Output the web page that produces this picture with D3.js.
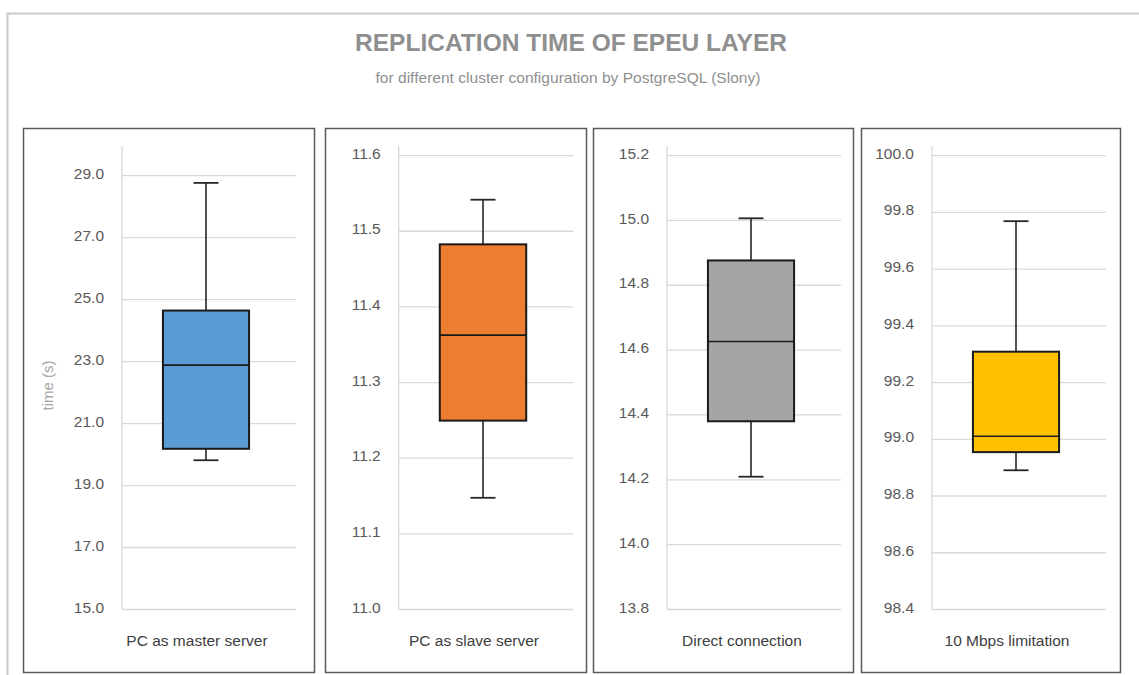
<!DOCTYPE html>
<html><head><meta charset="utf-8">
<script src="https://cdn.jsdelivr.net/npm/d3@7"></script>
<style>
html,body{margin:0;padding:0;background:#fff;}
svg{display:block;font-family:"Liberation Sans",Arial,sans-serif;}
</style></head>
<body>
<svg id="chart" width="1139" height="675"></svg>
<script>
// ---- data ----
const categories = ["PC as master server", "PC as slave server", "Direct connection", "10 Mbps limitation"];
const whiskerMin = [19.80, 11.147, 14.208, 98.889];
const q1         = [20.17, 11.249, 14.379, 98.953];
const median     = [22.87, 11.362, 14.625, 99.009];
const q3         = [24.63, 11.482, 14.875, 99.307];
const whiskerMax = [28.75, 11.541, 15.005, 99.767];
const ticks1 = [15, 17, 19, 21, 23, 25, 27, 29];
const ticks2 = [11.0, 11.1, 11.2, 11.3, 11.4, 11.5, 11.6];
const ticks3 = [13.8, 14.0, 14.2, 14.4, 14.6, 14.8, 15.0, 15.2];
const ticks4 = [98.4, 98.6, 98.8, 99.0, 99.2, 99.4, 99.6, 99.8, 100.0];
const axisMin = [15, 11.0, 13.8, 98.4];
const axisMax = [29.94, 11.612, 15.228, 100.032];
const boxColors = ["#5b9bd5", "#ed7d31", "#a5a5a5", "#ffc000"];
const titleText = "REPLICATION TIME OF EPEU LAYER";
const subtitleText = "for different cluster configuration by PostgreSQL (Slony)";
const yAxisTitle = "time (s)";

const tickSets = [ticks1, ticks2, ticks3, ticks4];

// ---- layout ----
const panelX = [23, 325, 593, 861];
const panelW = [291, 261, 260, 259];
const panelTop = 128, panelBottom = 672;
const plotL = [122, 398.7, 667, 932];
const plotR = [296, 573.3, 841, 1106];
const plotTop = 146, plotBottom = 609;

const svg = d3.select("#chart");

// outer frame
svg.append("rect").attr("x", 7.5).attr("y", 13.5).attr("width", 1160).attr("height", 700)
  .attr("fill", "none").attr("stroke", "#c9c9c9").attr("stroke-width", 2);

// titles
svg.append("text").attr("x", 571).attr("y", 51).attr("text-anchor", "middle")
  .attr("font-size", 23).attr("font-weight", "bold").attr("fill", "#8f8f8f")
  .attr("textLength", 432).attr("lengthAdjust", "spacingAndGlyphs").text(titleText);
svg.append("text").attr("x", 568).attr("y", 83).attr("text-anchor", "middle")
  .attr("font-size", 14.5).attr("fill", "#8f8f8f")
  .attr("textLength", 385).attr("lengthAdjust", "spacingAndGlyphs").text(subtitleText);

categories.forEach((cat, i) => {
  const g = svg.append("g");
  // panel frame
  g.append("rect").attr("x", panelX[i] + 0.5).attr("y", panelTop + 0.5)
    .attr("width", panelW[i]).attr("height", panelBottom - panelTop)
    .attr("fill", "#fff").attr("stroke", "#5a5a5a").attr("stroke-width", 1.5);

  const y = d3.scaleLinear().domain([axisMin[i], axisMax[i]]).range([plotBottom, plotTop]);
  const x = d3.scaleBand().domain([cat]).range([plotL[i], plotR[i]]).paddingOuter(0.51);

  // gridlines
  const grid = g.append("g").attr("transform", `translate(${plotL[i]},0)`)
    .call(d3.axisLeft(y).tickValues(tickSets[i]).tickSize(-(plotR[i] - plotL[i])).tickFormat(""));
  grid.select(".domain").remove();
  grid.selectAll(".tick line").attr("stroke", "#d9d9d9").attr("stroke-width", 1.3);

  // vertical axis line
  g.append("line").attr("x1", plotL[i]).attr("x2", plotL[i])
    .attr("y1", y(axisMax[i])).attr("y2", y(axisMin[i]))
    .attr("stroke", "#d9d9d9").attr("stroke-width", 1.3);

  // tick labels
  const ax = g.append("g").attr("transform", `translate(${plotL[i]},0)`)
    .call(d3.axisLeft(y).tickValues(tickSets[i]).tickSize(0).tickPadding(18).tickFormat(d3.format(".1f")));
  ax.select(".domain").remove();
  ax.selectAll(".tick text").attr("font-size", 15.5).attr("fill", "#595959")
    .attr("font-family", "Liberation Sans, Arial, sans-serif").attr("dy", "0.2em");

  // box
  const bw = x.bandwidth();
  const bx = x(cat) - 3;
  const cx = bx + bw / 2;
  const cap = bw * 0.29;
  // whiskers
  g.append("line").attr("x1", cx).attr("x2", cx).attr("y1", y(whiskerMax[i])).attr("y2", y(q3[i]))
    .attr("stroke", "#262626").attr("stroke-width", 1.6);
  g.append("line").attr("x1", cx).attr("x2", cx).attr("y1", y(q1[i])).attr("y2", y(whiskerMin[i]))
    .attr("stroke", "#262626").attr("stroke-width", 1.6);
  g.append("line").attr("x1", cx - cap / 2).attr("x2", cx + cap / 2)
    .attr("y1", y(whiskerMax[i])).attr("y2", y(whiskerMax[i]))
    .attr("stroke", "#262626").attr("stroke-width", 1.8);
  g.append("line").attr("x1", cx - cap / 2).attr("x2", cx + cap / 2)
    .attr("y1", y(whiskerMin[i])).attr("y2", y(whiskerMin[i]))
    .attr("stroke", "#262626").attr("stroke-width", 1.8);
  g.append("rect").attr("x", bx).attr("y", y(q3[i]))
    .attr("width", bw).attr("height", y(q1[i]) - y(q3[i]))
    .attr("fill", boxColors[i]).attr("stroke", "#1a1a1a").attr("stroke-width", 2);
  g.append("line").attr("x1", bx).attr("x2", bx + bw).attr("y1", y(median[i])).attr("y2", y(median[i]))
    .attr("stroke", "#1a1a1a").attr("stroke-width", 1.6);

  // category label
  g.append("text").attr("x", (plotL[i] + plotR[i]) / 2 - 12).attr("y", 646)
    .attr("text-anchor", "middle").attr("font-size", 15.5).attr("fill", "#404040")
    .text(cat);

  if (i === 0) {
    g.append("text").attr("transform", `translate(53,${(plotTop + plotBottom) / 2 + 8}) rotate(-90)`)
      .attr("text-anchor", "middle").attr("font-size", 15).attr("fill", "#a6a6a6")
      .text(yAxisTitle);
  }
});
</script>
</body></html>
